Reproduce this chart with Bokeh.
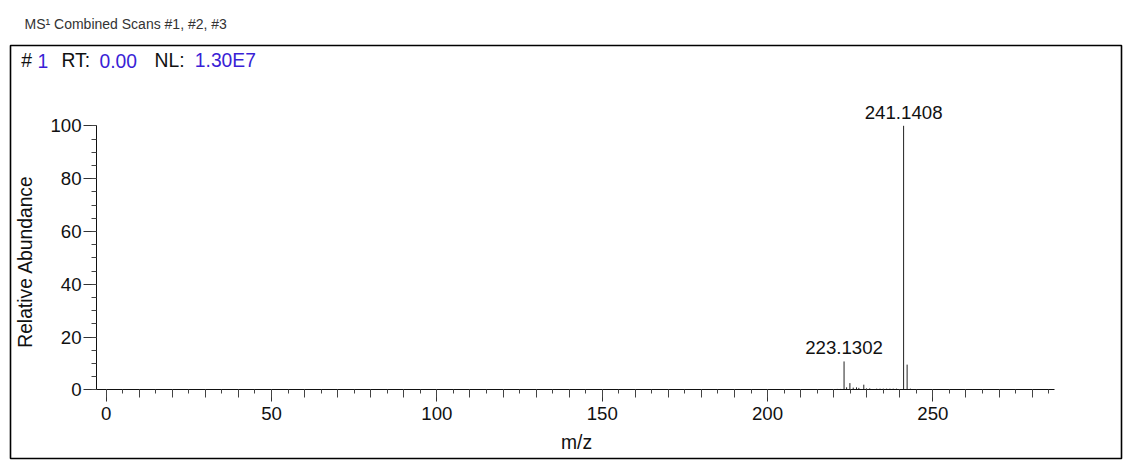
import math
from bokeh.plotting import figure
from bokeh.models import Range1d, FixedTicker, LinearAxis, Label, ColumnDataSource
from bokeh.embed import file_html
from bokeh.resources import INLINE
from bokeh.core.properties import value

# ---- data ----
mz = [218.0, 219.0, 220.0, 221.1, 222.1, 223.1302, 223.9, 224.9, 225.9, 226.9,
      227.6, 229.1, 229.9, 230.9, 233.0, 234.0, 235.0, 236.0, 237.0, 238.0,
      239.0, 241.1408, 242.2, 243.2]
abundance = [0.3, 0.3, 0.3, 0.4, 0.4, 10.8, 1.0, 2.6, 0.9, 1.0,
             0.8, 2.0, 0.6, 0.6, 0.5, 0.5, 0.5, 0.5, 0.5, 0.5,
             0.5, 100.0, 9.6, 0.5]
label_mz = [241.1408, 223.1302]
label_abundance = [100.0, 10.8]
label_text = ["241.1408", "223.1302"]

x_major_ticks = [0, 50, 100, 150, 200, 250]
x_mid_ticks = [0, 10, 20, 30, 40, 50, 60, 70, 80, 90, 100, 110, 120, 130, 140,
               150, 160, 170, 180, 190, 200, 210, 220, 230, 240, 250, 260, 270, 280]
x_minor_ticks = [5 * i for i in range(58)]
y_major_ticks = [0, 20, 40, 60, 80, 100]
y_minor_ticks = [5 * i for i in range(21)]

title_text = "MS\u00b9 Combined Scans #1, #2, #3"
header_parts = ["#", "1", "RT:", "0.00", "NL:", "1.30E7"]
header_is_value = [False, True, False, True, False, True]
x_label = "m/z"
y_label = "Relative Abundance"

FONT = "Liberation Sans"
FS = "18.67px"
FS_LBL = "19.3px"
BLUE = "#3a1fd6"
INK = "#111111"

# axis extents (data units) and the visible frame
X_AXIS_START, X_AXIS_END = -2.92, 286.86
p = figure(width=1130, height=464,
           x_range=Range1d(-28.93, 307.03), y_range=Range1d(-25.94, 130.40),
           output_backend="svg", toolbar_location=None,
           min_border_left=10, min_border_right=9,
           min_border_top=44, min_border_bottom=6,
           outline_line_color="black", outline_line_width=1.6,
           background_fill_color="white", border_fill_color="white")
p.grid.visible = False

src = ColumnDataSource(dict(mz=mz, ab=abundance))
p.segment(x0="mz", y0=0, x1="mz", y1="ab", source=src,
          line_color="#222222", line_width=1)

lsrc = ColumnDataSource(dict(x=label_mz, y=label_abundance, t=label_text))
p.text(x="x", y="y", text="t", source=lsrc, text_align="center",
       text_baseline="middle", y_offset=-13.5,
       text_font=value(FONT), text_font_size=value(FS), text_color=INK)

# x axis (drawn at y = 0)
xa = p.xaxis[0]
xa.fixed_location = 0
xa.bounds = (X_AXIS_START, X_AXIS_END)
xa.ticker = FixedTicker(ticks=x_major_ticks, minor_ticks=x_minor_ticks)
xa.major_tick_out = 12
xa.major_tick_in = 0
xa.minor_tick_out = 4
xa.minor_tick_in = 0
xa.major_label_standoff = 5
xa.axis_line_color = INK
xa.major_tick_line_color = "#333333"
xa.minor_tick_line_color = "#444444"
xa.major_label_text_font = FONT
xa.major_label_text_font_size = FS
xa.major_label_text_color = INK

x2 = LinearAxis(ticker=FixedTicker(ticks=x_mid_ticks, minor_ticks=[]),
                fixed_location=0, bounds=(X_AXIS_START, X_AXIS_END),
                axis_line_color=None,
                major_tick_out=8, major_tick_in=0,
                minor_tick_line_color=None, major_tick_line_color="#444444",
                major_label_text_color=None, major_label_standoff=0)
p.add_layout(x2, "below")

# y axis (drawn at the left end of the x axis)
ya = p.yaxis[0]
ya.fixed_location = X_AXIS_START
ya.bounds = (0, 100)
ya.ticker = FixedTicker(ticks=y_major_ticks, minor_ticks=y_minor_ticks)
ya.major_tick_out = 13
ya.major_tick_in = 0
ya.minor_tick_out = 5
ya.minor_tick_in = 0
ya.major_label_standoff = 2
ya.axis_line_color = INK
ya.major_tick_line_color = "#333333"
ya.minor_tick_line_color = "#444444"
ya.major_label_text_font = FONT
ya.major_label_text_font_size = FS
ya.major_label_text_color = INK

# axis titles
p.add_layout(Label(x=576, y=441.5, x_units="canvas", y_units="canvas",
                   text=x_label, text_font=FONT, text_font_size=FS_LBL,
                   text_color=INK, text_align="center",
                   text_baseline="middle"))
p.add_layout(Label(x=25, y=261, x_units="canvas", y_units="canvas",
                   text=y_label, text_font=FONT, text_font_size=FS_LBL,
                   text_color=INK, text_align="center", text_baseline="middle",
                   angle=math.pi / 2))

# title above the box
p.title.text = title_text
p.title.align = "left"
p.title.offset = 14
p.title.standoff = 27
p.title.text_font = FONT
p.title.text_font_size = "14px"
p.title.text_font_style = "normal"
p.title.text_color = "#333333"

# header inside the box
header_x = [20.7, 37, 61, 99, 154, 194.3]
for t, isv, hx in zip(header_parts, header_is_value, header_x):
    p.add_layout(Label(x=hx, y=60, x_units="canvas", y_units="canvas",
                       text=t, text_font=FONT, text_font_size=FS_LBL,
                       text_color=BLUE if isv else INK,
                       text_baseline="middle"))

open("out.html", "w").write(file_html(p, INLINE))
